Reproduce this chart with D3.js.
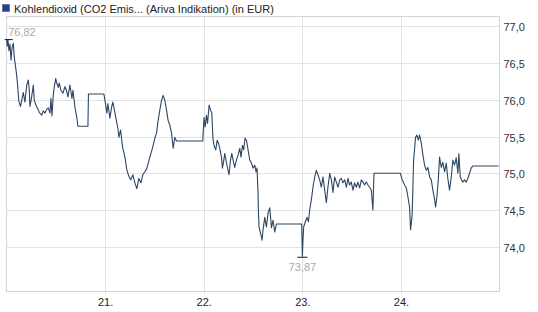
<!DOCTYPE html>
<html>
<head>
<meta charset="utf-8">
<script src="https://cdn.jsdelivr.net/npm/d3@7"></script>
<style>
  body { margin: 0; background: #fff; }
  svg { font-family: "Liberation Sans", Arial, sans-serif; }
</style>
</head>
<body>
<div id="chart"></div>
<script>
// title / axis labels
const title = 'Kohlendioxid (CO2 Emis... (Ariva Indikation) (in EUR)';
const dayTicks = [21, 22, 23, 24];
const priceTicks = [74.0, 74.5, 75.0, 75.5, 76.0, 76.5, 77.0];

// time as fractional day of month, price in EUR
const times = [
  20.002, 20.008, 20.015, 20.025, 20.035, 20.046, 20.056, 20.069, 20.079, 20.091,
  20.101, 20.111, 20.124, 20.142, 20.154, 20.170, 20.187, 20.205, 20.221, 20.231,
  20.238, 20.255, 20.272, 20.282, 20.299, 20.312, 20.332, 20.357, 20.373, 20.390,
  20.407, 20.424, 20.441, 20.451, 20.461, 20.474, 20.484, 20.499, 20.509, 20.525,
  20.535, 20.552, 20.572, 20.593, 20.608, 20.623, 20.643, 20.664, 20.674, 20.694,
  20.714, 20.724, 20.826, 20.831, 20.988, 21.003, 21.018, 21.028, 21.049, 21.066,
  21.079, 21.099, 21.117, 21.130, 21.140, 21.157, 21.177, 21.201, 21.221, 21.241,
  21.261, 21.282, 21.302, 21.322, 21.342, 21.363, 21.383, 21.403, 21.424, 21.454,
  21.484, 21.505, 21.522, 21.538, 21.555, 21.572, 21.589, 21.606, 21.623, 21.639,
  21.657, 21.674, 21.690, 21.707, 21.724, 21.991, 21.996, 22.004, 22.014, 22.028,
  22.039, 22.055, 22.069, 22.082, 22.095, 22.109, 22.123, 22.136, 22.150, 22.163,
  22.180, 22.190, 22.204, 22.214, 22.231, 22.247, 22.257, 22.272, 22.285, 22.298,
  22.315, 22.332, 22.349, 22.366, 22.379, 22.393, 22.406, 22.419, 22.434, 22.450,
  22.467, 22.484, 22.501, 22.518, 22.531, 22.541, 22.551, 22.555, 22.561, 22.576,
  22.592, 22.602, 22.619, 22.636, 22.653, 22.670, 22.687, 22.703, 22.720, 22.738,
  22.994, 22.997, 23.001, 23.007, 23.014, 23.031, 23.048, 23.062, 23.075, 23.092,
  23.108, 23.126, 23.142, 23.159, 23.176, 23.193, 23.210, 23.227, 23.244, 23.260,
  23.278, 23.295, 23.311, 23.328, 23.345, 23.362, 23.379, 23.396, 23.412, 23.430,
  23.447, 23.463, 23.480, 23.497, 23.514, 23.531, 23.548, 23.564, 23.582, 23.599,
  23.615, 23.632, 23.649, 23.666, 23.683, 23.700, 23.716, 23.727, 23.994, 24.014,
  24.038, 24.055, 24.071, 24.088, 24.098, 24.114, 24.129, 24.149, 24.162, 24.176,
  24.190, 24.207, 24.223, 24.240, 24.258, 24.274, 24.291, 24.308, 24.324, 24.342,
  24.352, 24.365, 24.379, 24.392, 24.410, 24.426, 24.443, 24.460, 24.476, 24.493,
  24.511, 24.527, 24.544, 24.561, 24.578, 24.588, 24.602, 24.615, 24.628, 24.646,
  24.663, 24.679, 24.696, 24.713, 24.730, 24.990
];
const prices = [
  76.82, 76.73, 76.81, 76.67, 76.76, 76.54, 76.71, 76.77, 76.58, 76.46,
  76.36, 76.23, 75.99, 75.91, 75.99, 76.10, 75.97, 76.20, 76.27, 76.13,
  75.91, 76.04, 76.20, 75.99, 75.93, 75.89, 75.83, 75.79, 75.85, 75.82,
  75.87, 75.89, 75.82, 76.02, 75.78, 76.06, 76.17, 76.29, 76.23, 76.17,
  76.23, 76.13, 76.09, 76.18, 76.13, 76.04, 76.20, 76.02, 76.13, 75.90,
  75.75, 75.64, 75.64, 76.08, 76.08, 75.95, 75.82, 75.95, 75.75, 75.90,
  75.97, 75.83, 75.70, 75.61, 75.49, 75.59, 75.36, 75.22, 75.04, 74.96,
  74.91, 74.98, 74.87, 74.79, 74.93, 74.87, 74.98, 75.02, 75.07, 75.22,
  75.36, 75.48, 75.55, 75.72, 75.86, 75.99, 76.06, 75.99, 75.86, 75.72,
  75.65, 75.55, 75.34, 75.49, 75.44, 75.44, 75.59, 75.76, 75.63, 75.79,
  75.68, 75.93, 75.86, 75.82, 75.45, 75.36, 75.32, 75.45, 75.41, 75.34,
  75.22, 75.07, 75.18, 75.27, 75.14, 75.04, 74.98, 75.18, 75.27, 75.18,
  75.08, 75.18, 75.25, 75.34, 75.22, 75.38, 75.32, 75.48, 75.45, 75.32,
  75.18, 75.14, 75.07, 75.11, 75.02, 75.07, 74.73, 74.47, 74.27, 74.19,
  74.09, 74.23, 74.40, 74.27, 74.46, 74.53, 74.26, 74.36, 74.20, 74.31,
  74.31, 74.09, 73.87, 74.09, 74.27, 74.34, 74.40, 74.34, 74.50, 74.64,
  74.81, 74.95, 75.04, 74.98, 74.91, 74.81, 74.95, 74.77, 74.60, 74.81,
  75.00, 74.91, 74.74, 74.95, 74.88, 74.81, 74.91, 74.93, 74.87, 74.91,
  74.81, 74.93, 74.84, 74.88, 74.77, 74.87, 74.81, 74.88, 74.80, 74.91,
  74.88, 74.84, 74.88, 74.84, 74.81, 74.77, 74.50, 75.00, 75.00, 74.91,
  74.84, 74.80, 74.68, 74.54, 74.23, 74.43, 75.18, 75.49, 75.52, 75.45,
  75.52, 75.41, 75.25, 75.11, 75.04, 75.08, 74.95, 74.91, 74.77, 74.64,
  74.54, 74.68, 74.91, 75.22, 75.08, 75.15, 75.02, 75.14, 74.93, 74.77,
  74.95, 75.18, 75.11, 75.21, 75.00, 75.27, 74.95, 74.91, 74.88, 74.91,
  74.88, 74.93, 75.00, 75.07, 75.10, 75.10
];

const W = 538, H = 312;
const plot = { left: 6.5, right: 499.5, top: 16.5, bottom: 291.5 };

const svg = d3.select('#chart').append('svg')
  .attr('width', W)
  .attr('height', H);

const x = d3.scaleLinear().domain([20, 25]).range([plot.left, plot.right]);
const y = d3.scaleLinear().domain([73.39, 77.135]).range([plot.bottom, plot.top]);

const fmt = v => d3.format('.2f')(v).replace('.', ',');

// gridlines
svg.append('g')
  .selectAll('line.hgrid')
  .data(priceTicks)
  .join('line')
  .attr('class', 'hgrid')
  .attr('x1', plot.left).attr('x2', plot.right)
  .attr('y1', d => Math.round(y(d)) + 0.5).attr('y2', d => Math.round(y(d)) + 0.5)
  .attr('stroke', '#e2e2e2');

svg.append('g')
  .selectAll('line.vgrid')
  .data(dayTicks)
  .join('line')
  .attr('class', 'vgrid')
  .attr('x1', d => Math.round(x(d)) + 0.5).attr('x2', d => Math.round(x(d)) + 0.5)
  .attr('y1', plot.top).attr('y2', plot.bottom + 3)
  .attr('stroke', '#e2e2e2');

// frame
svg.append('rect')
  .attr('x', plot.left).attr('y', plot.top)
  .attr('width', plot.right - plot.left)
  .attr('height', plot.bottom - plot.top)
  .attr('fill', 'none')
  .attr('stroke', '#d4d4d4');

// right axis
const yAxis = d3.axisRight(y)
  .tickValues(priceTicks)
  .tickSize(0)
  .tickPadding(4)
  .tickFormat(d => d3.format('.1f')(d).replace('.', ','));

const yAxisG = svg.append('g')
  .attr('transform', `translate(${plot.right}, 1)`)
  .call(yAxis);
yAxisG.select('.domain').remove();
yAxisG.selectAll('text').attr('fill', '#333').attr('font-size', 11);

// bottom axis
const xAxis = d3.axisBottom(x)
  .tickValues(dayTicks)
  .tickSize(0)
  .tickPadding(7)
  .tickFormat(d => d + '.');

const xAxisG = svg.append('g')
  .attr('transform', `translate(0, ${plot.bottom})`)
  .call(xAxis);
xAxisG.select('.domain').remove();
xAxisG.selectAll('text').attr('fill', '#222').attr('font-size', 11);

// price line
const data = times.map((t, i) => ({ t: t, p: prices[i] }));
const line = d3.line()
  .x(d => x(d.t))
  .y(d => y(d.p));

svg.append('path')
  .datum(data)
  .attr('fill', 'none')
  .attr('stroke', '#2b4663')
  .attr('stroke-width', 1.1)
  .attr('stroke-linejoin', 'round')
  .attr('d', line);

// high / low markers
const hi = data[d3.maxIndex(data, d => d.p)];
const lo = data[d3.minIndex(data, d => d.p)];

svg.append('line')
  .attr('x1', x(hi.t) - 2).attr('x2', x(hi.t) + 6)
  .attr('y1', y(hi.p)).attr('y2', y(hi.p))
  .attr('stroke', '#111').attr('stroke-width', 1);
svg.append('text')
  .attr('x', x(hi.t) + 1.5).attr('y', y(hi.p) - 4)
  .attr('font-size', 11).attr('fill', '#aaa')
  .text(fmt(hi.p));

svg.append('line')
  .attr('x1', x(lo.t) - 5).attr('x2', x(lo.t) + 5)
  .attr('y1', y(lo.p) + 1).attr('y2', y(lo.p) + 1)
  .attr('stroke', '#111').attr('stroke-width', 1);
svg.append('text')
  .attr('x', x(lo.t)).attr('y', y(lo.p) + 15)
  .attr('text-anchor', 'middle')
  .attr('font-size', 11).attr('fill', '#aaa')
  .text(fmt(lo.p));

// legend / title
svg.append('rect')
  .attr('x', 2.5).attr('y', 4.5)
  .attr('width', 7).attr('height', 7)
  .attr('fill', '#263f8a')
  .attr('stroke', '#6d7a9e');
svg.append('text')
  .attr('x', 14).attr('y', 12.5)
  .attr('font-size', 11).attr('fill', '#222')
  .text(title);
</script>
</body>
</html>
